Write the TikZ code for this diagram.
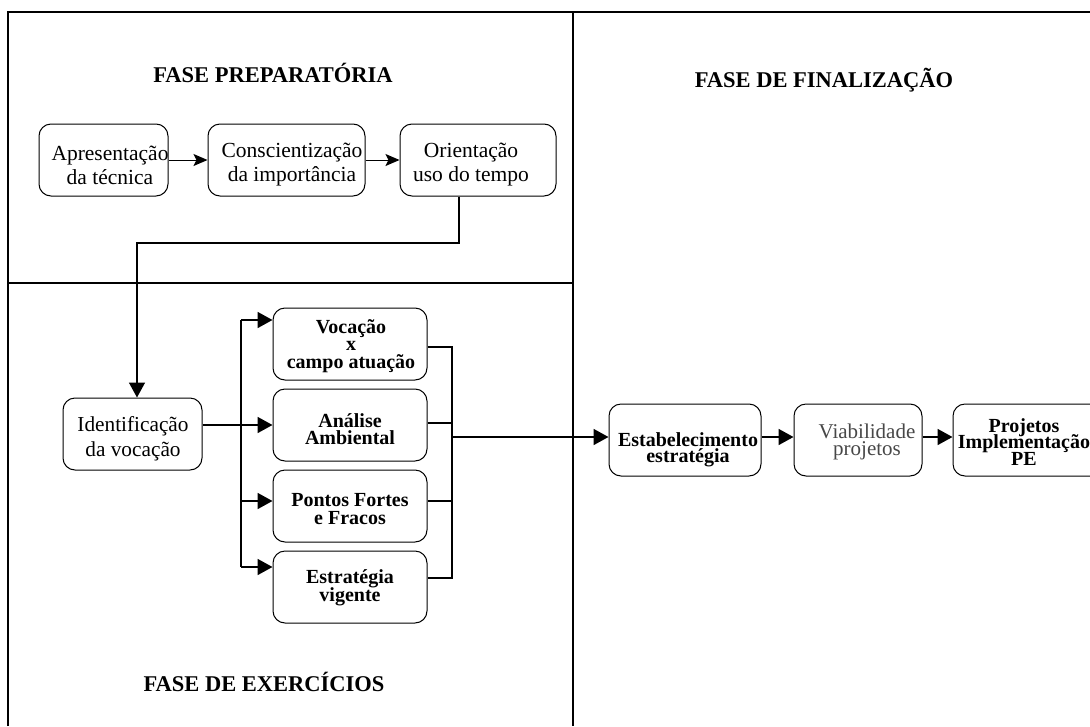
\documentclass[tikz,border=0pt]{standalone}
\usepackage{fontspec}
\setmainfont{Liberation Serif}
\usetikzlibrary{arrows.meta}
\begin{document}
\lineskiplimit=-100pt
\begin{tikzpicture}[x=1pt,y=-1pt,
  frame/.style={line width=1.7pt},
  box/.style={draw, line width=1pt, rounded corners=12pt, minimum height=72pt, inner sep=0pt},
  title/.style={font=\fontsize{22.5}{26}\selectfont\bfseries, anchor=base, inner sep=0pt},
  rtext/.style={align=center, inner sep=0pt, font=\fontsize{21.5}{24}\selectfont},
  itext/.style={align=center, inner sep=0pt, font=\fontsize{21.3}{25}\selectfont},
  btext/.style={align=center, inner sep=0pt, font=\fontsize{20}{17.5}\selectfont\bfseries},
  ftext/.style={align=center, inner sep=0pt, font=\fontsize{20}{16.5}\selectfont\bfseries},
  gtext/.style={align=center, inner sep=0pt, text=black!72, font=\fontsize{21}{16.5}\selectfont},
  link/.style={line width=1.8pt},
  bigarrow/.style={link, -{Triangle[length=15pt,width=16pt]}},
  thinarrow/.style={line width=1pt, -{Stealth[length=14pt,width=12pt,inset=3pt]}},
]
\path[use as bounding box, clip] (0,0) rectangle (1090,726);

% phase frame
\draw[frame] (8,726) -- (8,12) -- (1095,12);
\draw[frame] (573,12) -- (573,726);
\draw[frame] (8,283) -- (573,283);

% phase titles
\node[title] (tPrep) at (273,82) {FASE PREPARATÓRIA};
\node[title] (tFin) at (824,87) {FASE DE FINALIZAÇÃO};
\node[title] (tExe) at (264,691) {FASE DE EXERCÍCIOS};

% preparatory phase
\node[box, minimum width=129pt] (apr) at (103.5,160) {};
\node[rtext] (aprT) at (110,165) {Apresentação\\da técnica};
\node[box, minimum width=157pt] (con) at (286.5,160) {};
\node[rtext] (conT) at (292,165) {Conscientização\\da importância};
\node[box, minimum width=156pt] (ori) at (478,160) {};
\node[rtext] (oriT) at (471,165) {Orientação\\uso do tempo};

\draw[thinarrow] (apr.east) -- (con.west);
\draw[thinarrow] (con.east) -- (ori.west);

% exercises phase
\node[box, minimum width=139pt] (idv) at (132.5,434) {};
\node[itext] (idvT) at (133,439) {Identificação\\da vocação};

\node[box, minimum width=154pt] (voc) at (350,344) {};
\node[btext] (vocT) at (351,346) {Vocação\\x\\campo atuação};
\node[box, minimum width=154pt] (ana) at (350,425) {};
\node[btext] (anaT) at (350,429) {Análise\\Ambiental};
\node[box, minimum width=154pt] (pon) at (350,506) {};
\node[btext] (ponT) at (350,509) {Pontos Fortes\\e Fracos};
\node[box, minimum width=154pt] (est) at (350,587) {};
\node[btext] (estT) at (350,588) {Estratégia\\vigente};

% link from the preparatory phase
\coordinate (bend) at (137,243);
\draw[link, line width=1.5pt, -{Triangle[length=15pt,width=16pt]}]
  ([xshift=-19pt]ori.south) |- (bend) -- (bend |- idv.north);

% fan out to the four exercises
\coordinate (fan) at (241,0);
\coordinate (inVoc) at ([yshift=24pt]voc.west);
\coordinate (inPon) at ([yshift=5pt]pon.west);
\coordinate (inEst) at ([yshift=20pt]est.west);
\draw[link] (inVoc -| fan) -- (inEst -| fan);
\draw[bigarrow] (inVoc -| fan) -- (inVoc);
\draw[bigarrow] (idv.east |- ana.west) -- (ana.west);
\draw[bigarrow] (inPon -| fan) -- (inPon);
\draw[bigarrow] (inEst -| fan) -- (inEst);

% gather the four exercises
\coordinate (col) at (452,0);
\coordinate (outVoc) at ([yshift=-3pt]voc.east);
\coordinate (outAna) at ([yshift=2pt]ana.east);
\coordinate (outPon) at ([yshift=5pt]pon.east);
\coordinate (outEst) at ([yshift=9pt]est.east);
\draw[link] (outVoc) -- (outVoc -| col) -- (outEst -| col) -- (outEst);
\draw[link] (outAna) -- (outAna -| col);
\draw[link] (outPon) -- (outPon -| col);

% finalization phase
\node[box, minimum width=152pt] (esb) at (685,440) {};
\node[ftext] (esbT) at (688,450) {Estabelecimento\\estratégia};
\node[box, minimum width=128pt] (via) at (858,440) {};
\node[gtext] (viaT) at (867,442) {Viabilidade\\projetos};
\node[box, minimum width=152pt] (pro) at (1029,440) {};
\node[ftext] (proT) at (1024,442) {Projetos\\Implementação\\PE};

\coordinate (out) at (452,437);
\draw[bigarrow] (out) -- (out -| esb.west);
\draw[bigarrow] (esb.east |- out) -- (via.west |- out);
\draw[bigarrow] (via.east |- out) -- (pro.west |- out);
\end{tikzpicture}
\end{document}
